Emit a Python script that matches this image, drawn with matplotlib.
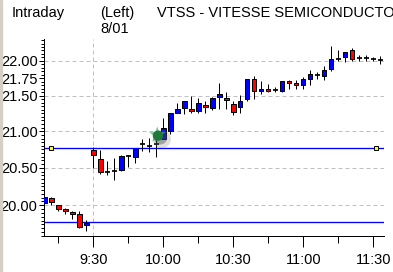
import matplotlib
matplotlib.use("Agg")
import matplotlib.pyplot as plt
from matplotlib.ticker import FixedLocator, FuncFormatter, NullFormatter
from matplotlib.patches import Rectangle
import numpy as np

plt.rcParams['font.family'] = ['Liberation Sans', 'DejaVu Sans']

# ---- data ----
times = ["9:09", "9:12", "9:15", "9:18", "9:21", "9:24", "9:27",
         "9:30", "9:33", "9:36", "9:39", "9:42", "9:45", "9:48", "9:51", "9:54", "9:57",
         "10:00", "10:03", "10:06", "10:09", "10:12", "10:15", "10:18", "10:21", "10:24", "10:27",
         "10:30", "10:33", "10:36", "10:39", "10:42", "10:45", "10:48", "10:51", "10:54", "10:57",
         "11:00", "11:03", "11:06", "11:09", "11:12", "11:15", "11:18", "11:21", "11:24", "11:27",
         "11:30", "11:33"]
opens = [20.03, 20.09, 20.00, 19.95, 19.91, 19.88, 19.74,
         20.74, 20.62, 20.45, 20.46, 20.47, 20.66, 20.64, 20.83, 20.80, 20.83,
         20.90, 21.01, 21.26, 21.32, 21.31, 21.28, 21.37, 21.32, 21.48, 21.47,
         21.38, 21.34, 21.45, 21.73, 21.57, 21.60, 21.58, 21.57, 21.71, 21.68,
         21.65, 21.74, 21.80, 21.78, 21.88, 22.02, 22.06, 22.15, 22.045, 22.04,
         22.02, 22.015]
highs = [20.11, 20.11, 20.01, 19.97, 19.93, 19.93, 19.81,
         20.79, 20.74, 20.59, 20.63, 20.67, 20.68, 20.76, 20.90, 20.91, 20.93,
         21.18, 21.25, 21.40, 21.42, 21.49, 21.47, 21.43, 21.48, 21.68, 21.55,
         21.42, 21.51, 21.73, 21.78, 21.71, 21.66, 21.62, 21.71, 21.72, 21.72,
         21.77, 21.87, 21.83, 21.92, 22.21, 22.15, 22.12, 22.18, 22.09, 22.085,
         22.05, 22.07]
lows = [19.90, 20.00, 19.92, 19.89, 19.82, 19.70, 19.66,
        20.50, 20.41, 20.40, 20.34, 20.46, 20.51, 20.56, 20.73, 20.71, 20.65,
        20.90, 20.96, 21.25, 21.24, 21.25, 21.25, 21.25, 21.30, 21.31, 21.31,
        21.22, 21.26, 21.42, 21.45, 21.52, 21.55, 21.55, 21.55, 21.59, 21.59,
        21.60, 21.65, 21.74, 21.72, 21.855, 21.99, 21.985, 22.00, 22.00, 22.00,
        21.995, 21.95]
closes = [20.11, 20.04, 19.95, 19.92, 19.88, 19.72, 19.77,
          20.68, 20.44, 20.45, 20.46, 20.66, 20.66, 20.76, 20.83, 20.80, 20.83,
          21.05, 21.25, 21.31, 21.42, 21.28, 21.39, 21.34, 21.46, 21.52, 21.44,
          21.27, 21.42, 21.73, 21.57, 21.60, 21.57, 21.58, 21.71, 21.68, 21.65,
          21.74, 21.81, 21.80, 21.86, 22.02, 22.02, 22.12, 22.03, 22.045, 22.04,
          22.02, 22.015]

line_levels = [20.77, 19.78]
flag_times = ["9:12", "11:31"]
flag_price = 20.77
blob_time = "9:57"
blob_price = 20.95

ytick_vals = [20.00, 20.50, 21.00, 21.50, 21.75, 22.00]
grid_vals = [20.00, 20.50, 21.00, 21.50, 22.00]
xtick_labels = ["9:30", "10:00", "10:30", "11:00", "11:30"]
xminor_labels = ["9:15", "9:45", "10:15", "10:45", "11:15"]


def tmin(s):
    h, m = s.split(":")
    return int(h) * 60 + int(m)


t = np.array([tmin(s) for s in times], dtype=float)
o = np.array(opens); h = np.array(highs); l = np.array(lows); c = np.array(closes)

W, H = 393, 272
fig = plt.figure(figsize=(W / 100, H / 100), dpi=100)
fig.patches.append(Rectangle((0, 0), 1.5 / W, 1, transform=fig.transFigure,
                             color='#d4d0c8', zorder=0))

ax = fig.add_axes([43.7 / W, (H - 236) / H, (384 - 43.7) / W, (236 - 39) / H])
ax.set_yscale('log')
ax.set_xlim(548.74, 694.6)
ax.set_ylim(19.599, 22.317)

px = 0.72  # 1 pixel in points
# grid
for g in grid_vals:
    ax.axhline(g, color='#c0c0c0', lw=px, ls=(0, (4, 3)), zorder=1)
ax.axvline(tmin("9:30"), color='#c0c0c0', lw=px, ls=(0, (4, 3)), zorder=1)

# reference lines
for lv in line_levels:
    ax.axhline(lv, color='#0000ff', lw=0.95, zorder=2)

# candles
bw = 1.9
ax.vlines(t, l, h, color='black', lw=px, zorder=3)
for ti, oi, ci in zip(t, o, c):
    if abs(ci - oi) < 1e-9:
        ax.hlines(oi, ti - bw / 2 - 0.2, ti + bw / 2 + 0.2, color='black', lw=1.25, zorder=4)
    else:
        col = '#0000ff' if ci > oi else '#ff0000'
        ax.add_patch(Rectangle((ti - bw / 2, min(oi, ci)), bw, abs(ci - oi),
                               facecolor=col, edgecolor='black', lw=px, zorder=4))

# flags
ax.plot([tmin(s) for s in flag_times], [flag_price] * len(flag_times), ls='none',
        marker='s', markersize=3.2, markerfacecolor='#ffff00', markeredgecolor='black',
        markeredgewidth=0.7, zorder=5)

# green blob with shadow
bt = tmin(blob_time) + 0.4
ax.scatter([bt + 2.0], [blob_price * 0.9972], s=170, color='#808080', alpha=0.25,
           edgecolors='none', zorder=5)
ax.scatter([bt + 1.4], [blob_price * 0.998], s=90, color='#303030', alpha=0.35,
           edgecolors='none', zorder=5)
ax.scatter([bt], [blob_price], s=150, marker='*', color='#55b870', alpha=0.8,
           edgecolors='none', zorder=6)
ax.scatter([bt + 0.3], [blob_price * 0.9995], s=55, marker='o', color='#1f7a3c',
           edgecolors='none', zorder=7)

# spines
for side in ['top', 'right']:
    ax.spines[side].set_visible(False)
for side in ['left', 'bottom']:
    ax.spines[side].set_linewidth(px)
    ax.spines[side].set_color('black')

# ticks
ax.xaxis.set_major_locator(FixedLocator([tmin(s) for s in xtick_labels]))
ax.xaxis.set_major_formatter(FuncFormatter(lambda v, p: "%d:%02d" % (int(v) // 60, int(v) % 60)))
ax.xaxis.set_minor_locator(FixedLocator([tmin(s) for s in xminor_labels]))
ax.xaxis.set_minor_formatter(NullFormatter())
ax.yaxis.set_major_locator(FixedLocator(ytick_vals))
ax.yaxis.set_major_formatter(FuncFormatter(lambda v, p: "%.2f" % v))
ax.yaxis.set_minor_locator(FixedLocator(np.arange(19.60, 22.32, 0.05)))
ax.yaxis.set_minor_formatter(NullFormatter())

ax.tick_params(axis='x', which='major', direction='out', length=7.9, width=px,
               pad=4.0, labelsize=10.5, colors='black')
ax.tick_params(axis='x', which='minor', direction='out', length=5.0, width=px)
ax.tick_params(axis='y', which='major', direction='out', length=3.6, width=px,
               pad=0.8, labelsize=10.5, colors='black')
ax.tick_params(axis='y', which='minor', direction='out', length=2.2, width=px)

# header texts
fs = 10.5
fig.text(12 / W, 1 - 16.7 / H, "Intraday", fontsize=fs, va='baseline', ha='left')
fig.text(100 / W, 1 - 16.7 / H, "(Left)", fontsize=fs, va='baseline', ha='left')
fig.text(157 / W, 1 - 16.7 / H, "VTSS - VITESSE SEMICONDUCTOR", fontsize=fs,
         va='baseline', ha='left')
fig.text(100 / W, 1 - 32.7 / H, "8/01", fontsize=fs, va='baseline', ha='left')

fig.savefig("out.png", dpi=100)
